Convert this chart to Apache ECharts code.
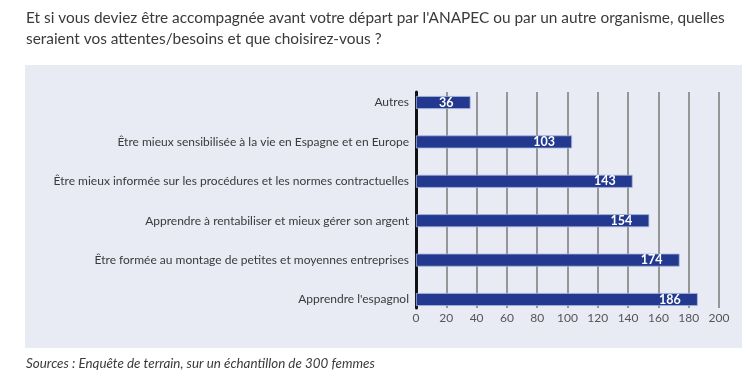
<!DOCTYPE html>
<html><head><meta charset="utf-8">
<script src="https://cdn.jsdelivr.net/npm/echarts@6/dist/echarts.min.js"></script>
<style>html,body{margin:0;padding:0;background:#fff}#c{width:746px;height:380px}</style>
</head><body><div id="c"></div>
<script>
var categories = [
  "Autres",
  "Être mieux sensibilisée à la vie en Espagne et en Europe",
  "Être mieux informée sur les procédures et les normes contractuelles",
  "Apprendre à rentabiliser et mieux gérer son argent",
  "Être formée au montage de petites et moyennes entreprises",
  "Apprendre l'espagnol"
];
var values = [36, 103, 143, 154, 174, 186];
var titleLines = [
  "Et si vous deviez être accompagnée avant votre départ par l'ANAPEC ou par un autre organisme, quelles",
  "seraient vos attentes/besoins et que choisirez-vous ?"
];
var sourceText = "Sources : Enquête de terrain, sur un échantillon de 300 femmes";

var FONT = "Lato";
var chart = echarts.init(document.getElementById('c'));
chart.setOption({
  animation: false,
  textStyle: {fontFamily: FONT},
  graphic: [
    {type: 'rect', z: -10, shape: {x: 25, y: 65, width: 717, height: 283}, style: {fill: '#e8ebf4'}},
    {type: 'text', left: 26, top: 8, style: {text: titleLines.join('\n'), font: '15.4px ' + FONT, fill: '#3a3a3a', lineHeight: 21}},
    {type: 'text', left: 26, top: 357, style: {text: sourceText, font: 'italic 13.4px ' + FONT, fill: '#3a3a3a'}}
  ],
  grid: [
    {left: 416, width: 303, top: 92, height: 216},
    {left: 416, width: 303, top: 82.8, height: 236.4}
  ],
  xAxis: [
    {gridIndex: 0, type: 'value', min: 0, max: 200, interval: 20,
     axisLine: {show: false}, axisTick: {show: false},
     axisLabel: {color: '#555', fontSize: 12, margin: 4},
     splitLine: {show: true, lineStyle: {color: '#7a7a7a', width: 1.5}}},
    {gridIndex: 1, type: 'value', min: 0, max: 200, show: false, splitLine: {show: false}}
  ],
  yAxis: [
    {gridIndex: 0, type: 'value', min: 0, max: 1,
     axisLine: {show: true, lineStyle: {color: '#111', width: 3}},
     axisTick: {show: false}, axisLabel: {show: false}, splitLine: {show: false}},
    {gridIndex: 1, type: 'category', data: categories, inverse: true,
     axisLine: {show: false}, axisTick: {show: false},
     axisLabel: {color: '#3a3a3a', fontSize: 12, margin: 7},
     splitLine: {show: false}}
  ],
  series: [{
    type: 'bar', xAxisIndex: 1, yAxisIndex: 1, data: values,
    barWidth: 13,
    itemStyle: {color: '#22398f', borderColor: '#aab6dc', borderWidth: 0.8},
    label: {show: true, position: 'insideRight', distance: 17,
            color: '#fff', fontWeight: 'bold', fontSize: 12.5, fontFamily: FONT}
  }]
});
</script></body></html>
